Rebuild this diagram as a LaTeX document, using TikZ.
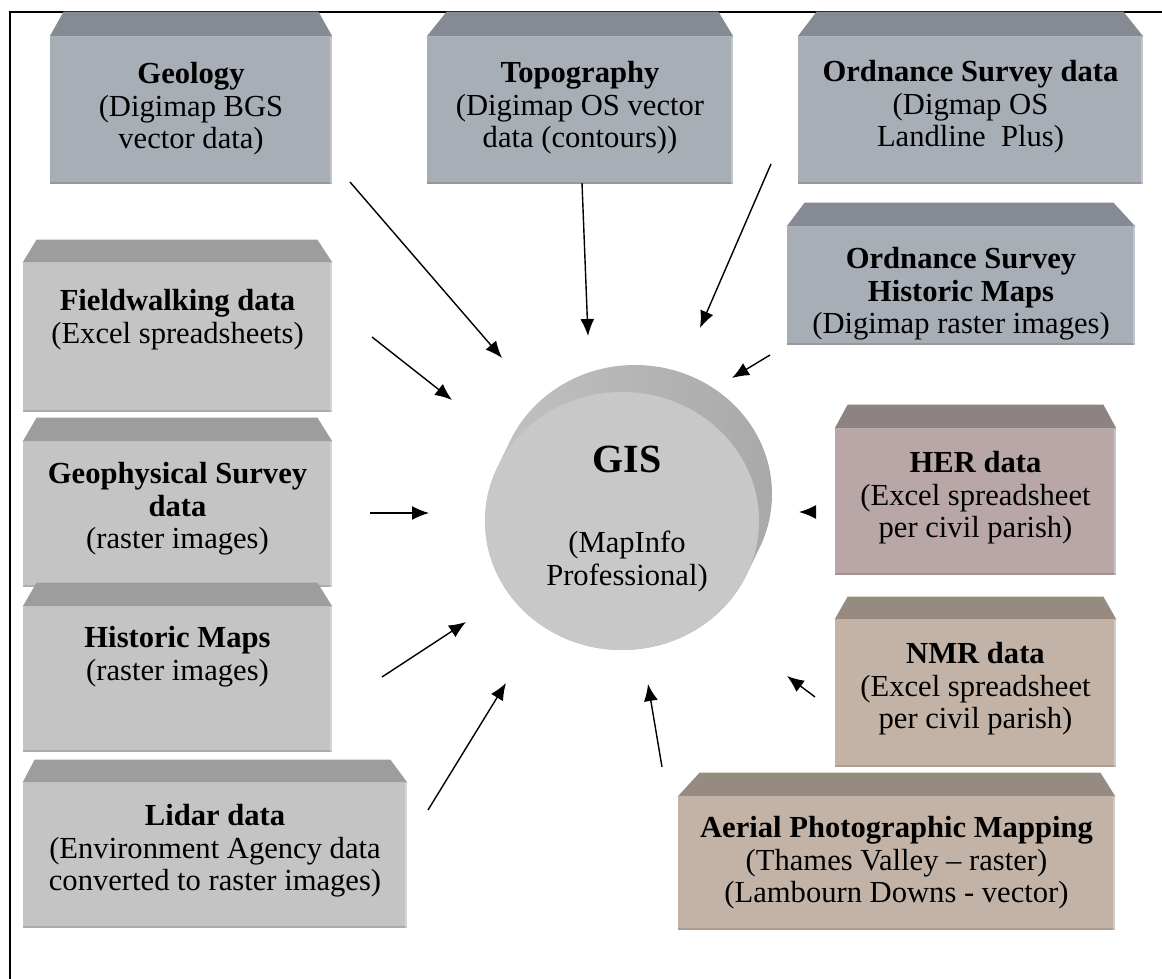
\documentclass[tikz,border=0pt]{standalone}
\usepackage{fontspec}
\setmainfont{Liberation Serif}
\usetikzlibrary{arrows.meta,fit,positioning,shapes.geometric}

\definecolor{topfill}{HTML}{A8AEB6}
\definecolor{topdark}{HTML}{868B93}
\definecolor{leftfill}{HTML}{C4C4C4}
\definecolor{leftdark}{HTML}{9D9D9D}
\definecolor{herfill}{HTML}{B9A7A8}
\definecolor{herdark}{HTML}{8F8282}
\definecolor{nmrfill}{HTML}{C3B3A7}
\definecolor{nmrdark}{HTML}{978A80}
\definecolor{gisfill}{HTML}{C8C8C8}
\definecolor{gisside}{HTML}{A9A9A9}
\definecolor{gislight}{HTML}{C2C2C2}

\begin{document}
\begin{tikzpicture}[x=0.5pt,y=-0.5pt,
    every node/.style={inner sep=0pt},
    body/.style={rectangle, fit={#1}, inner sep=0pt,
      path picture={
        \fill [black, opacity=0.12] (path picture bounding box.south west) rectangle ([yshift=1pt]path picture bounding box.south east);
        \fill [white, opacity=0.3] ([xshift=-1pt]path picture bounding box.north east) rectangle (path picture bounding box.south east);}},
    boxtext/.style={anchor=north, align=center, font=\fontsize{15.3}{16.4}\selectfont},
    feed/.style={-{Latex[length=8.5pt,width=7pt]}, line width=0.7pt}]
  \useasboundingbox (0,0) rectangle (1162,979);
  % frame
  \draw [line width=1pt] (10,979) -- (10,12) -- (1162,12);

  % sources along the top
  \node [body={(50,37) (332,184)}, fill=topfill] (geology) {};
  \fill [topdark] (geology.north west) -- ([shift={(14,-25)}]geology.north west) -- ([shift={(-14,-25)}]geology.north east) -- (geology.north east) -- cycle;
  \node [boxtext, below=12.5pt of geology.north] (geology-t) {\textbf{Geology}\\(Digimap BGS\\vector data)};

  \node [body={(427,37) (733,184)}, fill=topfill] (topo) {};
  \fill [topdark] (topo.north west) -- ([shift={(20,-25)}]topo.north west) -- ([shift={(-15,-25)}]topo.north east) -- (topo.north east) -- cycle;
  \node [boxtext, below=12pt of topo.north] (topo-t) {\textbf{Topography}\\(Digimap OS vector\\data (contours))};

  \node [body={(798,37) (1143,184)}, fill=topfill] (osdata) {};
  \fill [topdark] (osdata.north west) -- ([shift={(19,-25)}]osdata.north west) -- ([shift={(-20,-25)}]osdata.north east) -- (osdata.north east) -- cycle;
  \node [boxtext, below=11.5pt of osdata.north] (osdata-t) {\textbf{Ordnance Survey data}\\(Digmap OS\\Landline~ Plus)};

  \node [body={(787,227) (1135,345)}, fill=topfill] (oshist) {};
  \fill [topdark] (oshist.north west) -- ([shift={(18,-24)}]oshist.north west) -- ([shift={(-22,-24)}]oshist.north east) -- (oshist.north east) -- cycle;
  \node [boxtext, below=10pt of oshist.north] (oshist-t) {\textbf{Ordnance Survey}\\\textbf{Historic Maps}\\(Digimap raster images)};

  % sources on the left
  \node [body={(23,263) (332,412)}, fill=leftfill] (field) {};
  \fill [leftdark] (field.north west) -- ([shift={(14,-23)}]field.north west) -- ([shift={(-15,-23)}]field.north east) -- (field.north east) -- cycle;
  \node [boxtext, below=13pt of field.north] (field-t) {\textbf{Fieldwalking data}\\(Excel spreadsheets)};

  \node [body={(23,442) (332,587)}, fill=leftfill] (geoph) {};
  \fill [leftdark] (geoph.north west) -- ([shift={(14,-24)}]geoph.north west) -- ([shift={(-15,-24)}]geoph.north east) -- (geoph.north east) -- cycle;
  \node [boxtext, below=10pt of geoph.north] (geoph-t) {\textbf{Geophysical Survey}\\\textbf{data}\\(raster images)};

  \node [body={(23,607) (332,752)}, fill=leftfill] (histmaps) {};
  \fill [leftdark] (histmaps.north west) -- ([shift={(14,-24)}]histmaps.north west) -- ([shift={(-15,-24)}]histmaps.north east) -- (histmaps.north east) -- cycle;
  \node [boxtext, below=9.5pt of histmaps.north] (histmaps-t) {\textbf{Historic Maps}\\(raster images)};

  \node [body={(23,783) (407,928)}, fill=leftfill] (lidar) {};
  \fill [leftdark] (lidar.north west) -- ([shift={(12,-23)}]lidar.north west) -- ([shift={(-17,-23)}]lidar.north east) -- (lidar.north east) -- cycle;
  \node [boxtext, below=10.5pt of lidar.north] (lidar-t) {\textbf{Lidar data}\\(Environment Agency data\\converted to raster images)};

  % sources on the right
  \node [body={(835,429) (1116,575)}, fill=herfill] (her) {};
  \fill [herdark] (her.north west) -- ([shift={(13,-24)}]her.north west) -- ([shift={(-13,-24)}]her.north east) -- (her.north east) -- cycle;
  \node [boxtext, below=11pt of her.north] (her-t) {\textbf{HER data}\\(Excel spreadsheet\\per civil parish)};

  \node [body={(835,620) (1116,767)}, fill=nmrfill] (nmr) {};
  \fill [nmrdark] (nmr.north west) -- ([shift={(13,-23)}]nmr.north west) -- ([shift={(-13,-23)}]nmr.north east) -- (nmr.north east) -- cycle;
  \node [boxtext, below=11pt of nmr.north] (nmr-t) {\textbf{NMR data}\\(Excel spreadsheet\\per civil parish)};

  \node [body={(678,797) (1115,930)}, fill=nmrfill] (aerial) {};
  \fill [nmrdark] (aerial.north west) -- ([shift={(22,-24)}]aerial.north west) -- ([shift={(-15,-24)}]aerial.north east) -- (aerial.north east) -- cycle;
  \node [boxtext, below=9.5pt of aerial.north] (aerial-t) {\textbf{Aerial Photographic Mapping}\\(Thames Valley -- raster)\\(Lambourn Downs - vector)};

  % the GIS drum, side first, then the face
  \shade [left color=gislight, right color=gisside]
    \foreach \t in {0,...,12} { ({622+13*\t/12},{521-27*\t/12}) ellipse (137 and 129) };
  \node [ellipse, fill=gisfill, minimum width=137pt, minimum height=129pt] (gis) at (622,521) {};
  \node [anchor=base, font=\fontsize{20}{24}\selectfont\bfseries] (gis-t) at ([shift={(5,-49)}]gis.center) {GIS};
  \node [boxtext] (gis-s) at ([shift={(5,10)}]gis.center) {(MapInfo\\Professional)};

  % feeds into the GIS
  \coordinate (geology-a) at (350,182);  \coordinate (geology-b) at (502,358);
  \coordinate (topo-a) at (582,183);     \coordinate (topo-b) at (588,336);
  \coordinate (osdata-a) at (771,164);   \coordinate (osdata-b) at (700,328);
  \coordinate (oshist-a) at (770,355);   \coordinate (oshist-b) at (732,378);
  \coordinate (field-a) at (372,337);    \coordinate (field-b) at (452,400);
  \coordinate (geoph-a) at (370,513);    \coordinate (geoph-b) at (429,513);
  \coordinate (histmaps-a) at (382,677); \coordinate (histmaps-b) at (466,622);
  \coordinate (lidar-a) at (428,810);    \coordinate (lidar-b) at (506,683);
  \coordinate (her-a) at (816,512);      \coordinate (her-b) at (799,512);
  \coordinate (nmr-a) at (815,697);      \coordinate (nmr-b) at (787,676);
  \coordinate (aerial-a) at (662,767);   \coordinate (aerial-b) at (648,684);
  \draw [feed] (geology-a) -- (geology-b);
  \draw [feed] (topo-a) -- (topo-b);
  \draw [feed] (osdata-a) -- (osdata-b);
  \draw [feed] (oshist-a) -- (oshist-b);
  \draw [feed] (field-a) -- (field-b);
  \draw [feed] (geoph-a) -- (geoph-b);
  \draw [feed] (histmaps-a) -- (histmaps-b);
  \draw [feed] (lidar-a) -- (lidar-b);
  \draw [feed] (her-a) -- (her-b);
  \draw [feed] (nmr-a) -- (nmr-b);
  \draw [feed] (aerial-a) -- (aerial-b);
\end{tikzpicture}
\end{document}
